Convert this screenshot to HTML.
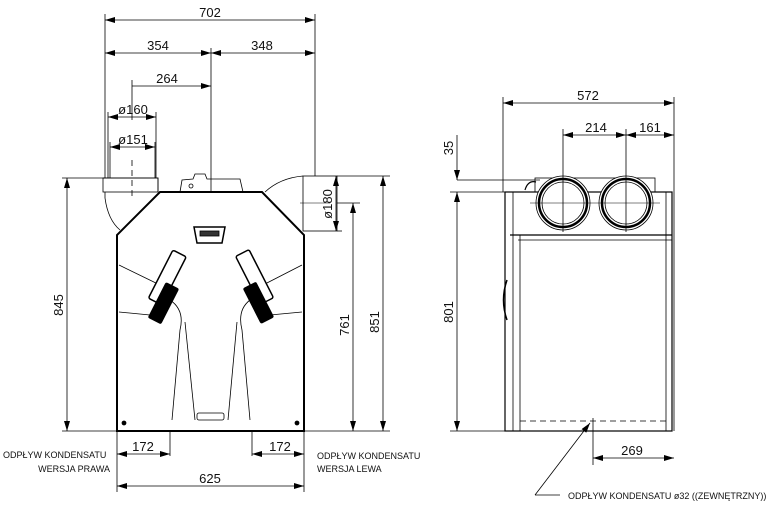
<!DOCTYPE html>
<html><head><style>body{margin:0;background:#fff}svg{display:block}text{font-family:"Liberation Sans",sans-serif;fill:#111}</style></head>
<body>
<svg width="772" height="511" viewBox="0 0 772 511" xmlns="http://www.w3.org/2000/svg">
<defs>
<marker id="a" viewBox="0 0 10 6" refX="10" refY="3" markerWidth="10" markerHeight="6" orient="auto-start-reverse" markerUnits="userSpaceOnUse"><path d="M0,0 L10,3 L0,6 z" fill="#000"/></marker>
</defs>
<g stroke="#000" stroke-width="0.8" fill="none">
<!-- front extension lines -->
<line x1="105" y1="14" x2="105" y2="178"/>
<line x1="315" y1="14" x2="315" y2="176"/>
<line x1="211" y1="48" x2="211" y2="192"/>
<line x1="132" y1="80" x2="132" y2="120"/>
<line x1="108" y1="112" x2="108" y2="178"/>
<line x1="156" y1="112" x2="156" y2="178"/>
<line x1="110" y1="142" x2="110" y2="178"/>
<line x1="155" y1="142" x2="155" y2="178"/>
<!-- dims top -->
<line x1="105" y1="20" x2="315" y2="20" marker-start="url(#a)" marker-end="url(#a)"/>
<line x1="105" y1="53" x2="211" y2="53" marker-start="url(#a)" marker-end="url(#a)"/>
<line x1="211" y1="53" x2="315" y2="53" marker-start="url(#a)" marker-end="url(#a)"/>
<line x1="132" y1="86" x2="211" y2="86" marker-end="url(#a)"/>
<line x1="108" y1="117" x2="156" y2="117" marker-start="url(#a)" marker-end="url(#a)"/>
<line x1="110" y1="147" x2="155" y2="147" marker-start="url(#a)" marker-end="url(#a)"/>
<!-- left/right vertical dims -->
<line x1="62" y1="178" x2="105" y2="178"/>
<line x1="62" y1="431" x2="117" y2="431"/>
<line x1="67" y1="178" x2="67" y2="431" marker-start="url(#a)" marker-end="url(#a)"/>
<line x1="337" y1="176" x2="390" y2="176"/>
<line x1="304" y1="431" x2="390" y2="431"/>
<line x1="383" y1="176" x2="383" y2="431" marker-start="url(#a)" marker-end="url(#a)"/>
<line x1="337" y1="203" x2="360" y2="203"/>
<line x1="353" y1="203" x2="353" y2="431" marker-start="url(#a)" marker-end="url(#a)"/>
<line x1="337" y1="231" x2="342" y2="231"/>
<line x1="336" y1="176" x2="336" y2="231" marker-start="url(#a)" marker-end="url(#a)"/>
<!-- bottom dims -->
<line x1="117" y1="431" x2="117" y2="492"/>
<line x1="304" y1="431" x2="304" y2="492"/>
<line x1="170" y1="431" x2="170" y2="456"/>
<line x1="252" y1="431" x2="252" y2="456"/>
<line x1="117" y1="454" x2="170" y2="454" marker-start="url(#a)" marker-end="url(#a)"/>
<line x1="252" y1="454" x2="304" y2="454" marker-start="url(#a)" marker-end="url(#a)"/>
<line x1="117" y1="486" x2="304" y2="486" marker-start="url(#a)" marker-end="url(#a)"/>
<!-- ducts -->
<path d="M103,178 L158,178 L158,192 M105,192 L105,198 Q108,220 120,230" />
<rect x="103" y="178" width="55" height="14"/>
<line x1="132" y1="160" x2="132" y2="200" stroke-dasharray="6,4"/>
<path d="M265,192 Q280,178 303,176"/>
<rect x="303" y="176" width="34" height="55"/>
<line x1="300" y1="203" x2="330" y2="203" stroke-width="0.5"/>
<path d="M180,192 L182,180 L193,179 L195,174 L205,174 L207,179 L240,179 L243,192"/>
<circle cx="191" cy="186" r="2"/>
<!-- body -->
<path d="M160,192 L262,192 L304,235 L304,431 L117,431 L117,235 Z" stroke-width="2"/>
<path d="M119,265 L160,285 M119,312 L150,315 M302,265 L263,285 M302,312 L270,315"/>
<path d="M170,300 Q185,310 180,330 L172,420 M185,322 L195,420 M250,300 Q237,310 242,330 L250,420 M237,322 L228,420"/>
<rect x="197" y="413" width="27" height="7" rx="2"/>
<circle cx="124" cy="423" r="2" fill="#000"/>
<circle cx="297" cy="423" r="2" fill="#000"/>
<path d="M194,227 L225,227 L222,243 L197,243 Z" stroke-width="1.5"/>
<rect x="200" y="231" width="19" height="5" fill="#333"/>
</g>
<g fill="#000">
<rect x="163" y="252" width="15" height="54" rx="2" transform="rotate(27 170 280) translate(-4 0)" fill="#fff" stroke="#000" stroke-width="1.5"/>
<rect x="156" y="283" width="15" height="40" rx="2" transform="rotate(27 163 303)"/>
<rect x="244" y="252" width="15" height="54" rx="2" transform="rotate(-27 251 280) translate(4 0)" fill="#fff" stroke="#000" stroke-width="1.5"/>
<rect x="251" y="283" width="15" height="40" rx="2" transform="rotate(-27 258 303)"/>
</g>
<!-- side view -->
<g stroke="#000" stroke-width="0.8" fill="none">
<line x1="503" y1="97" x2="503" y2="192"/>
<line x1="674" y1="97" x2="674" y2="431"/>
<line x1="563" y1="129" x2="563" y2="230"/>
<line x1="626" y1="129" x2="626" y2="230"/>
<line x1="503" y1="103" x2="674" y2="103" marker-start="url(#a)" marker-end="url(#a)"/>
<line x1="563" y1="135" x2="626" y2="135" marker-start="url(#a)" marker-end="url(#a)"/>
<line x1="626" y1="135" x2="674" y2="135" marker-start="url(#a)" marker-end="url(#a)"/>
<line x1="457" y1="135" x2="457" y2="180" marker-end="url(#a)"/>
<line x1="457" y1="180" x2="540" y2="180"/>
<line x1="450" y1="192" x2="510" y2="192"/>
<line x1="450" y1="431" x2="510" y2="431"/>
<line x1="457" y1="192" x2="457" y2="431" marker-start="url(#a)" marker-end="url(#a)"/>
<rect x="505" y="192" width="167" height="239" stroke-width="1.2"/>
<line x1="513" y1="192" x2="513" y2="431"/>
<line x1="520" y1="235" x2="520" y2="431"/>
<line x1="510" y1="235" x2="672" y2="235" stroke-width="1.2"/>
<line x1="518" y1="240" x2="672" y2="240"/>
<line x1="666" y1="192" x2="666" y2="431"/>
<path d="M507,280 Q500,300 507,320" stroke-width="1.5"/>
<rect x="535" y="178" width="120" height="14"/>
<circle cx="563" cy="203" r="27" fill="#fff"/>
<circle cx="563" cy="203" r="24" stroke-width="2.5"/>
<circle cx="563" cy="203" r="21"/>
<circle cx="626" cy="203" r="27" fill="#fff"/>
<circle cx="626" cy="203" r="24" stroke-width="2.5"/>
<circle cx="626" cy="203" r="21"/>
<line x1="563" y1="176" x2="563" y2="232"/><line x1="626" y1="176" x2="626" y2="232"/>
<line x1="530" y1="203" x2="660" y2="203" stroke-width="0.5"/>
<path d="M525,190 Q528,180 536,182" stroke-width="1.2"/>
<line x1="520" y1="421" x2="670" y2="421" stroke-dasharray="6,4"/>
<line x1="593" y1="418" x2="593" y2="465"/>
<line x1="593" y1="458" x2="674" y2="458" marker-start="url(#a)" marker-end="url(#a)"/>
<line x1="535" y1="495" x2="590" y2="423" marker-end="url(#a)"/>
<line x1="535" y1="495" x2="560" y2="495"/>
</g>
<g font-size="13">
<text x="210" y="17" text-anchor="middle">702</text>
<text x="158" y="50" text-anchor="middle">354</text>
<text x="262" y="50" text-anchor="middle">348</text>
<text x="167" y="83" text-anchor="middle">264</text>
<text x="133" y="114" text-anchor="middle">ø160</text>
<text x="133" y="144" text-anchor="middle">ø151</text>
<text x="588" y="100" text-anchor="middle">572</text>
<text x="596" y="132" text-anchor="middle">214</text>
<text x="650" y="132" text-anchor="middle">161</text>
<text x="143" y="451" text-anchor="middle">172</text>
<text x="280" y="451" text-anchor="middle">172</text>
<text x="210" y="483" text-anchor="middle">625</text>
<text x="632" y="455" text-anchor="middle">269</text>
<text transform="translate(63 305) rotate(-90)" text-anchor="middle">845</text>
<text transform="translate(379 322) rotate(-90)" text-anchor="middle">851</text>
<text transform="translate(349 325) rotate(-90)" text-anchor="middle">761</text>
<text transform="translate(332 204) rotate(-90)" text-anchor="middle">ø180</text>
<text transform="translate(453 312) rotate(-90)" text-anchor="middle">801</text>
<text transform="translate(453 148) rotate(-90)" text-anchor="middle">35</text>
</g>
<g font-size="9">
<text x="3" y="458">ODPŁYW KONDENSATU</text>
<text x="110" y="472" text-anchor="end">WERSJA PRAWA</text>
<text x="317" y="459">ODPŁYW KONDENSATU</text>
<text x="317" y="472">WERSJA LEWA</text>
<text x="568" y="499">ODPŁYW KONDENSATU ø32 ((ZEWNĘTRZNY))</text>
</g>
</svg>
</body></html>
